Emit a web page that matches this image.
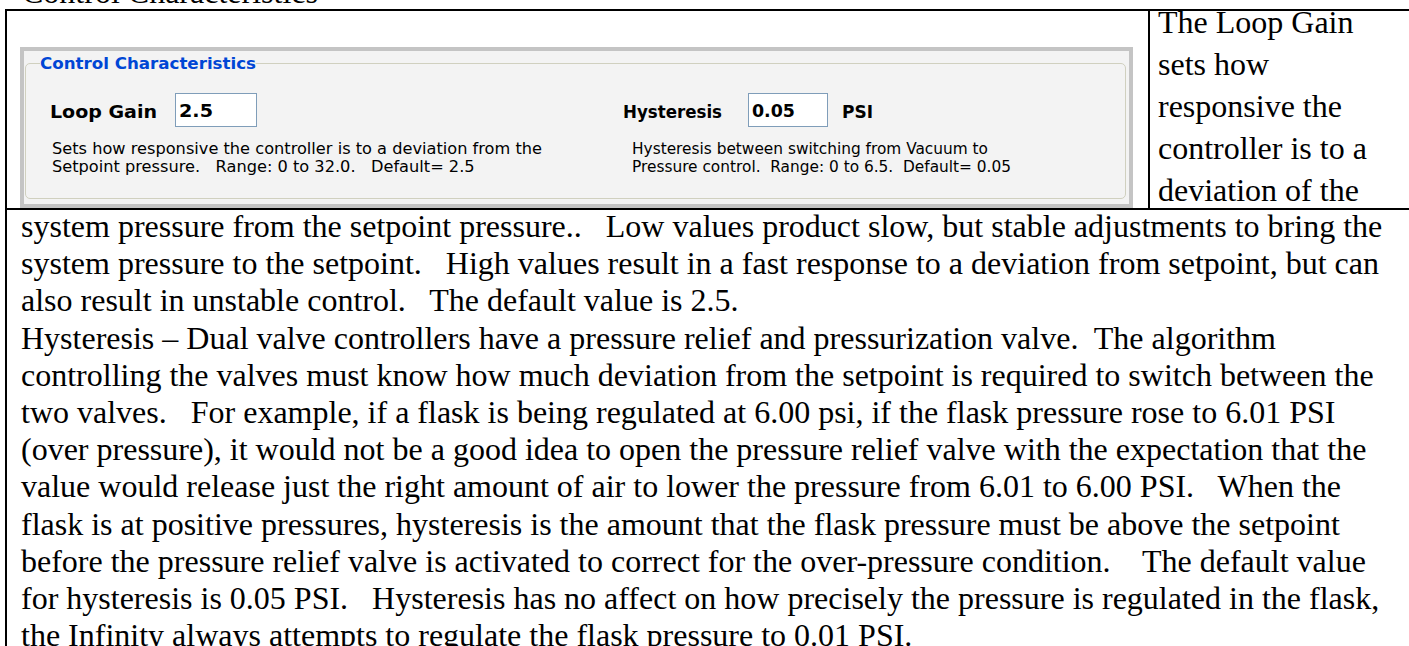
<!DOCTYPE html>
<html>
<head>
<meta charset="utf-8">
<script src="https://cdn.jsdelivr.net/npm/chart.js@4.4.1/dist/chart.umd.min.js"></script>
<style>
  body { margin: 0; background: #fff; width: 1409px; height: 646px; overflow: hidden; position: relative; }
  .t { position: absolute; white-space: pre; transform-origin: 0 50%; }
  .doc { font-family: "Liberation Serif", "Times New Roman", serif; font-size: 32px; line-height: 37.2px; color: #000; }
  .rule { position: absolute; background: #000; }
  .ui { font-family: "DejaVu Sans", Tahoma, sans-serif; color: #000; }
  .bold { font-weight: bold; }
  #panel { position: absolute; left: 20px; top: 47px; width: 1113px; height: 161px; box-sizing: border-box;
           border: 4px solid #c4c4c4; background: #f3f3f3; }
  #group { position: absolute; left: 25px; top: 63px; width: 1101px; height: 136px; box-sizing: border-box;
           border: 1px solid #d0d0bf; border-radius: 5px; }
  .box { position: absolute; border: 1px solid #7f9db9; background: #fff; box-sizing: border-box; }
</style>
</head>
<body>
<script>
// text of the page, line by line as it wraps in the picture
const heading = 'Control Characteristics';
const sideNote = ['The Loop Gain', 'sets how', 'responsive the', 'controller is to a', 'deviation of the'];
const bodyLines = [
  'system pressure from the setpoint pressure..   Low values product slow, but stable adjustments to bring the',
  'system pressure to the setpoint.   High values result in a fast response to a deviation from setpoint, but can',
  'also result in unstable control.   The default value is 2.5.',
  'Hysteresis \u2013 Dual valve controllers have a pressure relief and pressurization valve.  The algorithm',
  'controlling the valves must know how much deviation from the setpoint is required to switch between the',
  'two valves.   For example, if a flask is being regulated at 6.00 psi, if the flask pressure rose to 6.01 PSI',
  '(over pressure), it would not be a good idea to open the pressure relief valve with the expectation that the',
  'value would release just the right amount of air to lower the pressure from 6.01 to 6.00 PSI.   When the',
  'flask is at positive pressures, hysteresis is the amount that the flask pressure must be above the setpoint',
  'before the pressure relief valve is activated to correct for the over-pressure condition.    The default value',
  'for hysteresis is 0.05 PSI.   Hysteresis has no affect on how precisely the pressure is regulated in the flask,',
  'the Infinity always attempts to regulate the flask pressure to 0.01 PSI.'
];
// dialog screenshot texts
const groupTitle = 'Control Characteristics';
const fieldLabels = ['Loop Gain', 'Hysteresis'];
const fieldValues = ['2.5', '0.05'];
const fieldUnit = 'PSI';
const loopGainHelp = ['Sets how responsive the controller is to a deviation from the',
                      'Setpoint pressure.   Range: 0 to 32.0.   Default= 2.5'];
const hysteresisHelp = ['Hysteresis between switching from Vacuum to',
                        'Pressure control.  Range: 0 to 6.5.  Default= 0.05'];

function addText(txt, cls, x, y, opts) {
  opts = opts || {};
  const el = document.createElement('div');
  el.className = 't ' + cls;
  el.textContent = txt;
  el.style.left = x + 'px';
  if (opts.size) { el.style.fontSize = opts.size + 'px'; el.style.lineHeight = opts.size + 'px'; }
  if (opts.color) el.style.color = opts.color;
  if (opts.bg) el.style.background = opts.bg;
  document.body.appendChild(el);
  // y is the vertical centre for ui text, the top for document text
  el.style.top = (opts.center ? y - el.offsetHeight / 2 : y) + 'px';
  let sx = opts.scale || 1;
  if (opts.width) sx = opts.width / el.getBoundingClientRect().width;
  if (sx !== 1) el.style.transform = 'scaleX(' + sx + ')';
  el.dataset.sx = sx;
  return el;
}
function rule(x, y, w, h) {
  const el = document.createElement('div');
  el.className = 'rule';
  el.style.left = x + 'px'; el.style.top = y + 'px';
  el.style.width = w + 'px'; el.style.height = h + 'px';
  document.body.appendChild(el);
}
function box(x, y, w, h, cls) {
  const el = document.createElement('div');
  el.className = cls;
  el.style.left = x + 'px'; el.style.top = y + 'px';
  el.style.width = w + 'px'; el.style.height = h + 'px';
  document.body.appendChild(el);
}

// heading cut off at the top of the page
addText(heading, 'doc', 22, -26);

// table borders
rule(5, 9, 1404, 2);
rule(5, 9, 2, 640);
rule(1148, 9, 2, 201);
rule(5, 208, 1404, 2);

// dialog screenshot
const panel = document.createElement('div'); panel.id = 'panel'; document.body.appendChild(panel);
const group = document.createElement('div'); group.id = 'group'; document.body.appendChild(group);
addText(groupTitle, 'ui bold', 40, 64, { center: true, size: 16, color: '#0046d5', width: 216, bg: '#f3f3f3' });

addText(fieldLabels[0], 'ui bold', 50, 112, { center: true, size: 17, width: 107 });
box(175, 93, 82, 34, 'box');
addText(fieldValues[0], 'ui bold', 179, 111, { center: true, size: 17, width: 34 });

addText(fieldLabels[1], 'ui bold', 623, 112, { center: true, size: 17, width: 99 });
box(748, 93, 80, 34, 'box');
addText(fieldValues[1], 'ui bold', 752, 111, { center: true, size: 17, width: 43 });
addText(fieldUnit, 'ui bold', 842, 112, { center: true, size: 17, width: 31 });

// help lines: second line keeps the same squeeze as the first
const lg = addText(loopGainHelp[0], 'ui', 52, 149, { center: true, size: 15, width: 490 });
addText(loopGainHelp[1], 'ui', 52, 167, { center: true, size: 15, scale: +lg.dataset.sx });
const hy = addText(hysteresisHelp[0], 'ui', 632, 149, { center: true, size: 15, width: 356 });
addText(hysteresisHelp[1], 'ui', 632, 167, { center: true, size: 15, scale: +hy.dataset.sx });

// side note in the right cell
sideNote.forEach(function (line, i) {
  addText(line, 'doc', 1158, 4 + i * 42);
});

// body text below the table row
bodyLines.forEach(function (line, i) {
  addText(line, 'doc', 21, 208 + i * 37.2);
});
</script>
</body>
</html>
